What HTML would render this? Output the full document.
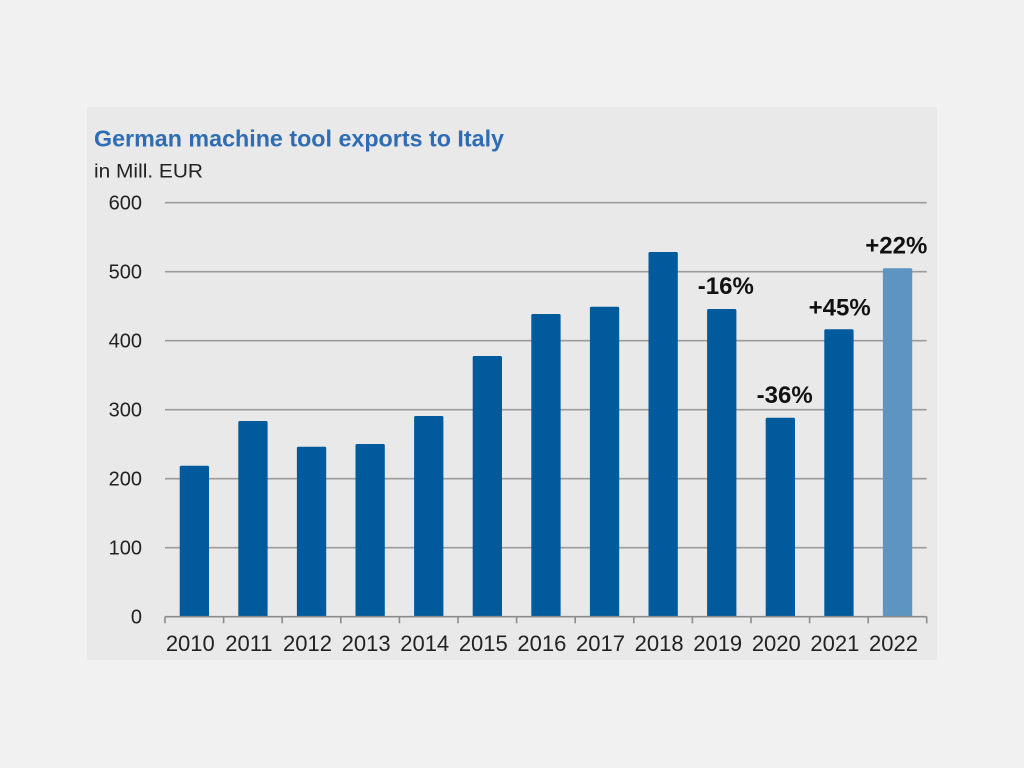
<!DOCTYPE html>
<html>
<head>
<meta charset="utf-8">
<style>
html,body{margin:0;padding:0;background:#f1f1f1;}
svg{display:block;}
</style>
</head>
<body>
<svg width="1024" height="768" viewBox="0 0 1024 768" xmlns="http://www.w3.org/2000/svg">
<rect x="0" y="0" width="1024" height="768" fill="#f1f1f1"/>
<rect x="87" y="107" width="850" height="553" fill="#e9e9e9"/>
<text x="94" y="146.7" font-family="Liberation Sans, sans-serif" font-weight="bold" font-size="23" fill="#2e6db4" textLength="410" lengthAdjust="spacingAndGlyphs">German machine tool exports to Italy</text>
<text x="94" y="177.3" font-family="Liberation Sans, sans-serif" font-size="19" fill="#222" textLength="109" lengthAdjust="spacingAndGlyphs">in Mill. EUR</text>
<g stroke="#9c9c9c" stroke-width="1.6">
<line x1="165" y1="202.7" x2="926.7" y2="202.7"/>
<line x1="165" y1="271.7" x2="926.7" y2="271.7"/>
<line x1="165" y1="340.7" x2="926.7" y2="340.7"/>
<line x1="165" y1="409.7" x2="926.7" y2="409.7"/>
<line x1="165" y1="478.7" x2="926.7" y2="478.7"/>
<line x1="165" y1="547.7" x2="926.7" y2="547.7"/>
</g>
<g font-family="Liberation Sans, sans-serif" font-size="20" fill="#222" text-anchor="end">
<text x="142" y="209.5">600</text>
<text x="142" y="278.5">500</text>
<text x="142" y="347.5">400</text>
<text x="142" y="416.5">300</text>
<text x="142" y="485.5">200</text>
<text x="142" y="554.5">100</text>
<text x="142" y="623.5">0</text>
</g>
<g fill="#005a9b">
<rect x="179.7" y="465.7" width="29.3" height="151" rx="1.5"/>
<rect x="238.3" y="421" width="29.3" height="195.7" rx="1.5"/>
<rect x="296.9" y="446.7" width="29.3" height="170" rx="1.5"/>
<rect x="355.5" y="444" width="29.3" height="172.7" rx="1.5"/>
<rect x="414.1" y="416" width="29.3" height="200.7" rx="1.5"/>
<rect x="472.7" y="356" width="29.3" height="260.7" rx="1.5"/>
<rect x="531.3" y="314" width="29.3" height="302.7" rx="1.5"/>
<rect x="589.9" y="306.7" width="29.3" height="310" rx="1.5"/>
<rect x="648.5" y="252" width="29.3" height="364.7" rx="1.5"/>
<rect x="707.1" y="309" width="29.3" height="307.7" rx="1.5"/>
<rect x="765.7" y="417.7" width="29.3" height="199" rx="1.5"/>
<rect x="824.3" y="329.3" width="29.3" height="287.4" rx="1.5"/>
</g>
<rect x="882.9" y="268.3" width="29.3" height="348.4" rx="1.5" fill="#5b95c0"/>
<g stroke="#8c8c8c" stroke-width="1.6">
<line x1="165" y1="616.7" x2="926.7" y2="616.7"/>
<line x1="165" y1="616.7" x2="165" y2="623.3"/>
<line x1="223.6" y1="616.7" x2="223.6" y2="623.3"/>
<line x1="282.2" y1="616.7" x2="282.2" y2="623.3"/>
<line x1="340.8" y1="616.7" x2="340.8" y2="623.3"/>
<line x1="399.4" y1="616.7" x2="399.4" y2="623.3"/>
<line x1="458" y1="616.7" x2="458" y2="623.3"/>
<line x1="516.6" y1="616.7" x2="516.6" y2="623.3"/>
<line x1="575.2" y1="616.7" x2="575.2" y2="623.3"/>
<line x1="633.8" y1="616.7" x2="633.8" y2="623.3"/>
<line x1="692.4" y1="616.7" x2="692.4" y2="623.3"/>
<line x1="751" y1="616.7" x2="751" y2="623.3"/>
<line x1="809.6" y1="616.7" x2="809.6" y2="623.3"/>
<line x1="868.2" y1="616.7" x2="868.2" y2="623.3"/>
<line x1="926.7" y1="616.7" x2="926.7" y2="623.3"/>
</g>
<g font-family="Liberation Sans, sans-serif" font-size="22" fill="#222" text-anchor="middle">
<text x="190.3" y="651">2010</text>
<text x="248.9" y="651">2011</text>
<text x="307.5" y="651">2012</text>
<text x="366.1" y="651">2013</text>
<text x="424.7" y="651">2014</text>
<text x="483.3" y="651">2015</text>
<text x="541.9" y="651">2016</text>
<text x="600.5" y="651">2017</text>
<text x="659.1" y="651">2018</text>
<text x="717.7" y="651">2019</text>
<text x="776.3" y="651">2020</text>
<text x="834.9" y="651">2021</text>
<text x="893.5" y="651">2022</text>
</g>
<g font-family="Liberation Sans, sans-serif" font-size="24" font-weight="bold" fill="#111" text-anchor="middle">
<text x="725.8" y="294">-16%</text>
<text x="784.7" y="403">-36%</text>
<text x="839.7" y="315.7">+45%</text>
<text x="896.3" y="253.3">+22%</text>
</g>
</svg>
</body>
</html>
